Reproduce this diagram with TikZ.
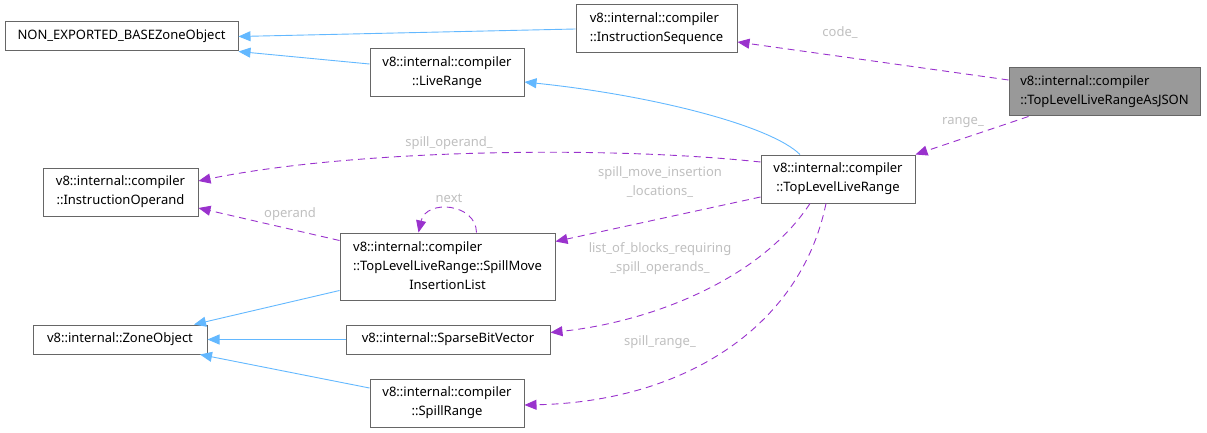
\documentclass[tikz,border=0pt]{standalone}
\usepackage{fontspec}
\setmainfont{Noto Sans}
\usetikzlibrary{arrows.meta}
\definecolor{inhblue}{HTML}{63B8FF}
\definecolor{usepurple}{HTML}{9A32CD}
\definecolor{lblgray}{HTML}{BFBFBF}
\definecolor{boxgray}{HTML}{666666}
\definecolor{hlgray}{HTML}{999999}
\begin{document}
\begin{tikzpicture}[x=1pt, y=-1pt,
    cls/.style={draw=boxgray, line width=1pt, fill=white, inner sep=0pt,
        font=\fontsize{13}{19}\selectfont, align=center},
    inherit/.style={draw=inhblue, line width=0.9pt, -{Triangle[length=12pt,width=10pt]}},
    uses/.style={draw=usepurple, line width=0.9pt, dash pattern=on 7pt off 5pt,
        -{Triangle[length=12pt,width=10pt,fill=usepurple]}},
    lbl/.style={text=lblgray, font=\fontsize{13}{19}\selectfont, align=center, inner sep=0pt}]

    \useasboundingbox (0,0) rectangle (1207,433);

    % classes
    \node[cls, minimum width=233pt, minimum height=29pt] (nonexp) at (121.5,36.5) {NON\_EXPORTED\_BASEZoneObject};
    \node[cls, minimum width=161pt, minimum height=48pt, align=left] (instrseq) at (656.5,29) {v8::internal::compiler\\::InstructionSequence};
    \node[cls, fill=hlgray, minimum width=191pt, minimum height=48pt, align=left] (json) at (1104.5,92) {v8::internal::compiler\\::TopLevelLiveRangeAsJSON};
    \node[cls, minimum width=154pt, minimum height=48pt] (liverange) at (447,73) {v8::internal::compiler\\::LiveRange};
    \node[cls, minimum width=154pt, minimum height=48pt] (tllr) at (838,179) {v8::internal::compiler\\::TopLevelLiveRange};
    \node[cls, minimum width=155pt, minimum height=48pt] (instrop) at (120.5,192) {v8::internal::compiler\\::InstructionOperand};
    \node[cls, minimum width=215pt, minimum height=67pt] (smil) at (447.5,266.5)
        {\begin{tabular}{@{}l@{}}v8::internal::compiler\\::TopLevelLiveRange::SpillMove\\\multicolumn{1}{@{}c@{}}{InsertionList}\end{tabular}};
    \node[cls, minimum width=174pt, minimum height=29pt] (zoneobj) at (120,339.5) {v8::internal::ZoneObject};
    \node[cls, minimum width=204pt, minimum height=29pt] (sbv) at (448,339.5) {v8::internal::SparseBitVector};
    \node[cls, minimum width=154pt, minimum height=48pt] (spillrange) at (447,403) {v8::internal::compiler\\::SpillRange};

    % inheritance
    \draw[inherit] (instrseq.west) -- (nonexp.east);
    \draw[inherit] ([yshift=9pt]liverange.west) -- ([yshift=-15pt]nonexp.east);
    \draw[inherit] ([xshift=-38pt]tllr.north) .. controls (770,125) and (650,95) .. ([yshift=-9pt]liverange.east);
    \draw[inherit] ([yshift=-24pt]smil.west) -- ([xshift=74pt]zoneobj.north);
    \draw[inherit] (sbv.west) -- (zoneobj.east);
    \draw[inherit] ([yshift=15pt]spillrange.west) -- ([xshift=80pt]zoneobj.south);

    % usage
    \draw[uses] ([yshift=12pt]json.west) -- ([yshift=-13pt]instrseq.east);
    \draw[uses] ([xshift=-76pt]json.south) -- (tllr.north east);
    \draw[uses] ([yshift=17pt]tllr.west) .. controls (600,145) and (350,150) .. ([yshift=11pt]instrop.east);
    \draw[uses] ([yshift=-18pt]tllr.west) -- ([yshift=25pt]smil.east);
    \draw[uses] ([yshift=26pt]smil.west) -- ([yshift=-16pt]instrop.east);
    \draw[uses] ([xshift=29pt]smil.north) .. controls (476,203) and (426,199) .. ([xshift=-29pt]smil.north);
    \draw[uses] ([xshift=-28pt]tllr.south) .. controls (760,280) and (650,322) .. ([yshift=7pt]sbv.east);
    \draw[uses] ([xshift=-12pt]tllr.south) .. controls (800,330) and (680,402) .. ([yshift=-2pt]spillrange.east);

    % labels
    \node[lbl] (lcode) at (840,33) {code\_};
    \node[lbl] (lrange) at (963,123) {range\_};
    \node[lbl] (lspillop) at (449,143) {spill\_operand\_};
    \node[lbl] (lsmil) at (660,182) {spill\_move\_insertion\\\_locations\_};
    \node[lbl] (loperand) at (290,214) {operand};
    \node[lbl] (lnext) at (449,198) {next};
    \node[lbl] (lblocks) at (660,259) {list\_of\_blocks\_requiring\\\_spill\_operands\_};
    \node[lbl] (lspillrange) at (660,342) {spill\_range\_};

\end{tikzpicture}
\end{document}
